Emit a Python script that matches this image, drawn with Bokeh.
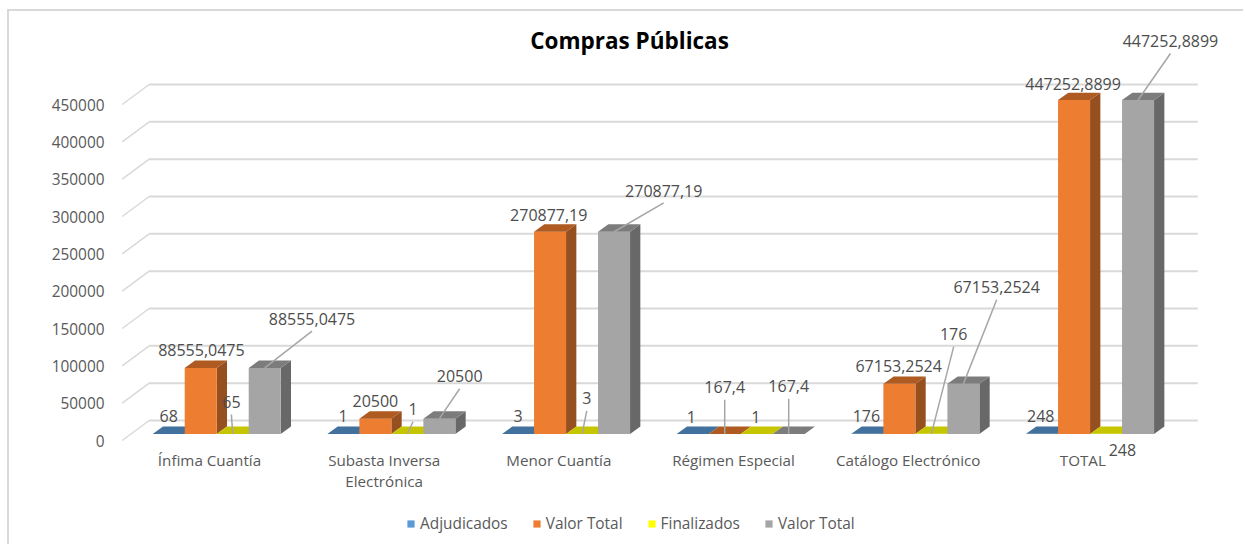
from bokeh.plotting import figure
from bokeh.models import (ColumnDataSource, FixedTicker, Legend, LegendItem, LabelSet, Label, Range1d, LinearAxis)
from bokeh.core.properties import value
from bokeh.embed import file_html
from bokeh.resources import INLINE

# ---- data
TITLE = "Compras Públicas"
CATEGORIES = ["Ínfima Cuantía", "Subasta Inversa\nElectrónica", "Menor Cuantía",
              "Régimen Especial", "Catálogo Electrónico", "TOTAL"]
ADJUDICADOS = [68, 1, 3, 1, 176, 248]
VALOR_TOTAL_A = [88555.0475, 20500, 270877.19, 167.4, 67153.2524, 447252.8899]
FINALIZADOS = [65, 1, 3, 1, 176, 248]
VALOR_TOTAL_B = [88555.0475, 20500, 270877.19, 167.4, 67153.2524, 447252.8899]
SERIES_NAMES = ["Adjudicados", "Valor Total", "Finalizados", "Valor Total"]
Y_TICKS = [0, 50000, 100000, 150000, 200000, 250000, 300000, 350000, 400000, 450000]

# ---- style / layout
FONT = "Open Sans"
TEXT = "#595959"
FRONT = ["#5b9bd5", "#ed7d31", "#ffff00", "#a5a5a5"]
TOP = ["#41719c", "#ae5a21", "#c6c600", "#7c7c7c"]
SIDE = ["#376092", "#964f1e", "#a8a800", "#686868"]

ORIGIN_X, ORIGIN_Y = 9, 11                     # inside the border lines
FIG_W, FIG_H = 1245 - ORIGIN_X, 546 - ORIGIN_Y
F_LEFT, F_TOP, F_BOTTOM, F_RIGHT = 121, ORIGIN_Y, 546, 1245
SLOT = 174.67                                  # px per category
PX_PER_UNIT = 336 / 450000
UX = 1 / SLOT                                  # data x per px
UY = 1 / PX_PER_UNIT                           # data y per px
X0 = -0.5 - 0.67 * UX
Y_END = (440 - F_TOP) * UY
Y_START = (440 - F_BOTTOM) * UY

BAR_W = 32 * UX
GROUP_SHIFT = 7.2 * UX
DX, DY = 10.3 * UX, 7.4 * UY
BASE = 6.5 * UY
WALL_DX, WALL_DY = 27 * UX, 20 * UY
WALL_END = -0.5 + 1075.5 * UX

# data-label offsets in px from the top-centre of each bar's front face (series x category)
LABEL_DX = [[0, -0.4, 0, -1.3, -1, -1.3],
            [0.7, 0, -1.3, 0, -0.7, -1],
            [-1.3, 5.6, 4.7, -1, 22.3, 16.4],
            [47.3, 20.3, 49.7, 0, 33.3, 32.4]]
LABEL_DY = [[17.5, 17.5, 18, 17.4, 17.5, 17.5],
            [17.4, 17.5, 17.2, 46.4, 17.4, 16.2],
            [31.8, 24.5, 35.5, 17.4, 99.5, -15.8],
            [49, 42.2, 41.2, 47.4, 96.4, 58.8]]
LEADER = [[0, 0, 0, 0, 0, 0],
          [0, 0, 0, 1, 0, 0],
          [1, 1, 1, 0, 1, 0],
          [1, 1, 1, 1, 1, 1]]

p = figure(width=FIG_W, height=FIG_H, output_backend="svg", toolbar_location=None,
           x_range=Range1d(X0, X0 + (F_RIGHT - F_LEFT) * UX),
           y_range=Range1d(Y_START, Y_END),
           x_axis_location=None,
           min_border_left=F_LEFT - ORIGIN_X, min_border_right=0, min_border_top=0,
           min_border_bottom=0, background_fill_color="white", border_fill_color="white",
           outline_line_color=None)
p.margin = (ORIGIN_Y - 2, 0, 0, ORIGIN_X - 2)
p.styles = {"border-left": "2px solid #d9d9d9", "border-top": "2px solid #d9d9d9"}

p.grid.visible = False
xaxis = LinearAxis(ticker=FixedTicker(ticks=list(range(len(CATEGORIES)))),
                   major_label_overrides={i: c for i, c in enumerate(CATEGORIES)},
                   fixed_location=(440 - 438) * UY, major_label_standoff=5)
p.add_layout(xaxis, "below")
p.yaxis.ticker = FixedTicker(ticks=Y_TICKS)
for ax in (xaxis, p.yaxis[0]):
    ax.axis_line_color = None
    ax.major_tick_line_color = None
    ax.minor_tick_line_color = None
    ax.major_label_text_font = FONT
    ax.major_label_text_font_size = "15.4px"
    ax.major_label_text_color = TEXT
xaxis.major_label_text_font_size = "15.2px"
xaxis.major_label_text_line_height = 1.05
p.yaxis[0].major_label_standoff = 11
p.yaxis[0].formatter.use_scientific = False

# walls
GRID = "#d9d9d9"
p.segment([-0.5] * len(Y_TICKS), Y_TICKS, [-0.5 + WALL_DX] * len(Y_TICKS),
          [t + WALL_DY for t in Y_TICKS], line_color=GRID, line_width=1.5)
p.segment([-0.5 + WALL_DX] * len(Y_TICKS), [t + WALL_DY for t in Y_TICKS],
          [WALL_END] * len(Y_TICKS), [t + WALL_DY for t in Y_TICKS], line_color=GRID, line_width=2)

SERIES = [ADJUDICADOS, VALOR_TOTAL_A, FINALIZADOS, VALOR_TOTAL_B]
legend_items = []
for s, vals in enumerate(SERIES):
    lefts = [i + GROUP_SHIFT + (s - 2) * BAR_W for i in range(len(vals))]
    rights = [l + BAR_W for l in lefts]
    bottoms = [BASE] * len(vals)
    tops = [BASE + v for v in vals]
    p.patches([[r, r + DX, r + DX, r] for r in rights],
              [[BASE, BASE + DY, t + DY, t] for t in tops],
              fill_color=SIDE[s], line_color=None)
    front = p.quad(left=lefts, right=rights, bottom=bottoms, top=tops,
                   fill_color=FRONT[s], line_color=None)
    p.patches([[l, r, r + DX, l + DX] for l, r in zip(lefts, rights)],
              [[t, t, t + DY, t + DY] for t in tops],
              fill_color=TOP[s], line_color=None)
    legend_items.append(LegendItem(label=value(SERIES_NAMES[s]), renderers=[front]))

# leaders and data labels
lx, ly, lt = [], [], []
for s, vals in enumerate(SERIES):
    for i, v in enumerate(vals):
        cx = i + GROUP_SHIFT + (s - 1.5) * BAR_W
        top = BASE + v
        x1, y1 = cx + LABEL_DX[s][i] * UX, top + LABEL_DY[s][i] * UY
        lx.append(x1)
        ly.append(y1)
        lt.append(str(v).replace(".", ","))
        if LEADER[s][i]:
            p.line([cx, x1], [top, y1 - 12.3 * UY], line_color="#a6a6a6", line_width=1.5)

labels = LabelSet(x="x", y="y", text="t", source=ColumnDataSource(dict(x=lx, y=ly, t=lt)),
                  text_align="center", text_baseline="middle", text_color="#4d4d4d",
                  text_font=value(FONT), text_font_size="16px")
p.add_layout(labels)

title = Label(x=(629 - 209) * UX, y=(440 - 40) * UY, text=TITLE, text_align="center",
              text_baseline="middle", text_font=FONT, text_font_style="bold",
              text_font_size="22.5px", text_color="#000000")
p.add_layout(title)

legend = Legend(items=legend_items, orientation="horizontal", location=(285, 12),
                glyph_width=9, glyph_height=9, label_text_font=FONT, label_text_font_size="15.4px",
                label_text_color=TEXT, label_standoff=5, spacing=24, border_line_color=None,
                background_fill_alpha=0, margin=0, padding=0)
p.add_layout(legend, "center")

html = file_html(p, INLINE)
open("out.html", "w").write(html)
